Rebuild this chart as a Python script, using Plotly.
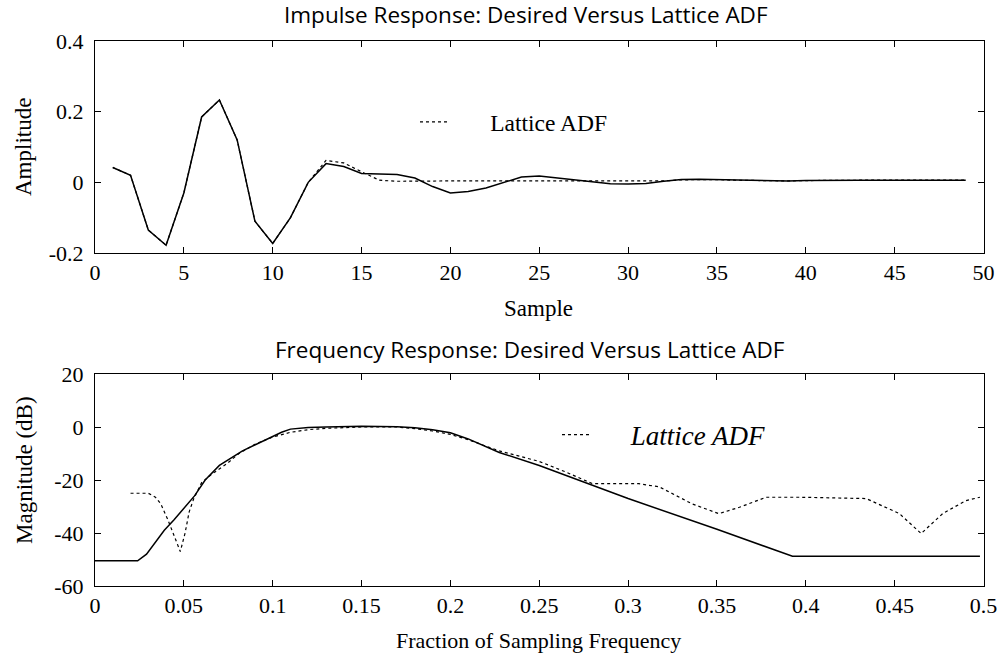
import plotly.graph_objects as go

# ---------------- data ----------------
samples = list(range(1, 50))
desired_impulse = [0.042, 0.02, -0.135, -0.178, -0.03, 0.185, 0.233, 0.12, -0.11, -0.173,
                   -0.1, 0.0, 0.053, 0.045, 0.025, 0.023, 0.022, 0.012, -0.012, -0.03,
                   -0.026, -0.016, 0.0, 0.015, 0.018, 0.012, 0.006, 0.002, -0.004, -0.005,
                   -0.003, 0.003, 0.008, 0.009, 0.008, 0.006, 0.005, 0.004, 0.004, 0.005,
                   0.006, 0.006, 0.006, 0.006, 0.006, 0.006, 0.006, 0.006, 0.006]
lattice_impulse = [0.042, 0.02, -0.135, -0.178, -0.03, 0.185, 0.233, 0.12, -0.11, -0.173,
                   -0.1, 0.0, 0.062, 0.055, 0.03, 0.006, 0.003, 0.004, 0.004, 0.004,
                   0.004, 0.004, 0.004, 0.004, 0.004, 0.004, 0.004, 0.004, 0.004, 0.004,
                   0.003, 0.004, 0.007, 0.008, 0.008, 0.006, 0.005, 0.004, 0.004, 0.005,
                   0.006, 0.006, 0.006, 0.006, 0.006, 0.006, 0.006, 0.006, 0.006]

desired_freq = [0.0, 0.024, 0.029, 0.039, 0.0445, 0.05, 0.056, 0.062, 0.07, 0.083, 0.091,
                0.099, 0.105, 0.11, 0.12, 0.13, 0.15, 0.17, 0.18, 0.19, 0.2, 0.21, 0.2275,
                0.25, 0.3, 0.35, 0.3925, 0.498]
desired_mag = [-50.5, -50.5, -48, -39, -35, -30.5, -26, -20, -14.5, -9, -6.4,
               -4, -2, -0.8, -0.2, 0.0, 0.3, 0.1, -0.3, -1.0, -2.2, -4.5, -9.6,
               -14.5, -27, -38.6, -48.8, -48.8]

lattice_freq = [0.02, 0.03, 0.034, 0.037, 0.041, 0.045, 0.048, 0.0507, 0.053, 0.0556, 0.06,
                0.0653, 0.0745, 0.081, 0.09, 0.1, 0.11, 0.12, 0.13, 0.15, 0.17, 0.18, 0.19,
                0.2, 0.21, 0.2275, 0.25, 0.265, 0.28, 0.306, 0.3176, 0.336, 0.351, 0.3626,
                0.3777, 0.3964, 0.434, 0.4527, 0.4649, 0.477, 0.49, 0.498]
lattice_mag = [-25, -25, -26.5, -29, -35, -42, -47, -40, -32, -27, -21,
               -18, -13.7, -10, -6.5, -3.8, -2, -1, -0.5, 0.0, 0.0, -0.6, -1.5,
               -2.8, -4.8, -9, -13, -17, -21.4, -21.4, -22.6, -29, -32.7, -30.3,
               -26.5, -26.5, -27, -32.7, -40.2, -32.7, -27.8, -26.5]

x1_ticks = [0, 5, 10, 15, 20, 25, 30, 35, 40, 45, 50]
y1_ticks = [-0.2, 0, 0.2, 0.4]
y1_labels = ["-0.2", "0", "0.2", "0.4"]
x2_ticks = [0, 0.05, 0.1, 0.15, 0.2, 0.25, 0.3, 0.35, 0.4, 0.45, 0.5]
x2_labels = ["0", "0.05", "0.1", "0.15", "0.2", "0.25", "0.3", "0.35", "0.4", "0.45", "0.5"]
y2_ticks = [-60, -40, -20, 0, 20]
y2_labels = ["-60", "-40", "-20", "0", "20"]

# ---------------- figure ----------------
W, H = 1002, 656
FONT = "Liberation Serif"
TITLE_FONT = "Open Sans"
fig = go.Figure()

fig.add_trace(go.Scatter(x=samples, y=desired_impulse, mode="lines",
                         line=dict(color="black", width=1.5), showlegend=False,
                         xaxis="x", yaxis="y"))
fig.add_trace(go.Scatter(x=samples, y=lattice_impulse, mode="lines",
                         line=dict(color="black", width=1.2, dash="dot"),
                         name="\u00a0" * 6 + "Lattice ADF", legend="legend",
                         xaxis="x", yaxis="y"))
fig.add_trace(go.Scatter(x=desired_freq, y=desired_mag, mode="lines",
                         line=dict(color="black", width=1.5), showlegend=False,
                         xaxis="x2", yaxis="y2"))
fig.add_trace(go.Scatter(x=lattice_freq, y=lattice_mag, mode="lines",
                         line=dict(color="black", width=1.2, dash="dot"),
                         name="\u00a0" * 5 + "Lattice ADF", legend="legend2",
                         xaxis="x2", yaxis="y2"))

xdom = [95 / W, 983.5 / W]
axis_common = dict(showgrid=False, zeroline=False, showline=True, linecolor="black",
                   linewidth=1, mirror="allticks", ticks="inside", ticklen=6,
                   tickcolor="black", automargin=False,
                   tickfont=dict(family=FONT, size=22, color="black"))

fig.update_layout(
    template="none",
    width=W, height=H,
    margin=dict(l=0, r=0, t=0, b=0, pad=0, autoexpand=False),
    paper_bgcolor="white", plot_bgcolor="white",
    font=dict(family=FONT, size=22, color="black"),
    xaxis=dict(domain=xdom, range=[0, 50], tickvals=x1_ticks, anchor="y",
               **axis_common),
    yaxis=dict(domain=[1 - 253 / H, 1 - 41 / H], range=[-0.2, 0.4], tickvals=y1_ticks,
               ticktext=y1_labels, anchor="x", ticklabelstandoff=6, **axis_common),
    xaxis2=dict(domain=xdom, range=[0, 0.5], tickvals=x2_ticks, ticktext=x2_labels,
                anchor="y2", **axis_common),
    yaxis2=dict(domain=[1 - 586 / H, 1 - 374 / H], range=[-60, 20], tickvals=y2_ticks,
                ticktext=y2_labels, anchor="x2", ticklabelstandoff=6, **axis_common),
    legend=dict(x=415 / W, y=1 - 122 / H, xanchor="left", yanchor="middle",
                bgcolor="rgba(0,0,0,0)", borderwidth=0,
                font=dict(family=FONT, size=23.5, color="black")),
    legend2=dict(x=557 / W, y=1 - 435 / H, xanchor="left", yanchor="middle",
                 bgcolor="rgba(0,0,0,0)", borderwidth=0,
                 font=dict(family=FONT, size=27, color="black", style="italic")),
)

ann = [
    dict(text="Impulse Response: Desired Versus Lattice ADF", x=526 / W, y=1 - 14 / H,
         font=dict(family=TITLE_FONT, size=22.5, color="black")),
    dict(text="Frequency Response: Desired Versus Lattice ADF", x=530 / W, y=1 - 349 / H,
         font=dict(family=TITLE_FONT, size=22.5, color="black")),
    dict(text="Sample", x=538 / W, y=1 - 309 / H,
         font=dict(family=FONT, size=23, color="black")),
    dict(text="Fraction of Sampling Frequency", x=538 / W, y=1 - 640 / H,
         font=dict(family=FONT, size=22, color="black")),
    dict(text="Amplitude", x=23 / W, y=1 - 147 / H, textangle=-90,
         font=dict(family=FONT, size=23, color="black")),
    dict(text="Magnitude (dB)", x=24 / W, y=1 - 470 / H, textangle=-90,
         font=dict(family=FONT, size=23, color="black")),
]
for a in ann:
    fig.add_annotation(xref="paper", yref="paper", showarrow=False,
                       xanchor="center", yanchor="middle", **a)

fig.write_html("out.html")
